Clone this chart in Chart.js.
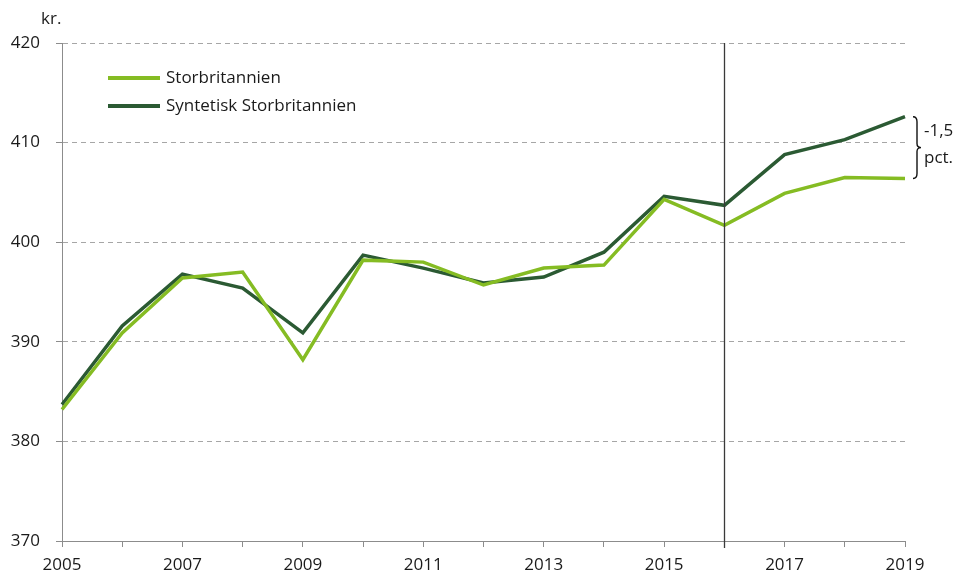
<!DOCTYPE html>
<html>
<head>
<meta charset="utf-8">
<script src="https://cdn.jsdelivr.net/npm/chart.js@4/dist/chart.umd.min.js"></script>
<style>
html,body{margin:0;padding:0;background:#fff;}
#wrap{width:955px;height:576px;position:relative;}
</style>
</head>
<body>
<div id="wrap"><canvas id="c" width="955" height="576"></canvas></div>
<script>
const years = ['2005','2006','2007','2008','2009','2010','2011','2012','2013','2014','2015','2016','2017','2018','2019'];
const storbritannien = [383.2,390.9,396.4,397.0,388.2,398.2,398.0,395.7,397.4,397.7,404.3,401.7,404.9,406.5,406.4];
const syntetisk = [383.7,391.6,396.8,395.4,390.9,398.7,397.4,395.9,396.5,399.0,404.6,403.7,408.8,410.3,412.6];
const seriesNames = ['Storbritannien','Syntetisk Storbritannien'];
const yTicks = [370,380,390,400,410,420];
const unitLabel = 'kr.';
const interventionYear = '2016';
const gapLabel = ['-1,5','pct.'];

const FONT = '"Open Sans", sans-serif';
const FS = 17;
const LIGHT = '#85BC23';
const DARK = '#2B5A33';
const TEXT = '#1a1a1a';

const extras = {
  id: 'extras',
  afterDatasetsDraw(chart) {
    const ctx = chart.ctx;
    const xs = chart.scales.x, ys = chart.scales.y;
    const ca = chart.chartArea;
    ctx.save();
    // vertical line
    const vx = Math.round(xs.getPixelForValue(years.indexOf(interventionYear))) + 0.5;
    ctx.strokeStyle = '#3a3a3a';
    ctx.lineWidth = 1.3;
    ctx.beginPath();
    ctx.moveTo(vx, ca.top);
    ctx.lineTo(vx, ca.bottom + 7);
    ctx.stroke();
    // legend
    const items = [[seriesNames[0], LIGHT, 78], [seriesNames[1], DARK, 106]];
    ctx.font = FS + 'px ' + FONT;
    ctx.textBaseline = 'middle';
    ctx.textAlign = 'left';
    items.forEach(([t, c, y]) => {
      ctx.strokeStyle = c;
      ctx.lineWidth = 4;
      ctx.beginPath();
      ctx.moveTo(108, y);
      ctx.lineTo(160, y);
      ctx.stroke();
      ctx.fillStyle = TEXT;
      ctx.fillText(t, 166, y);
    });
    // unit label
    ctx.fillText(unitLabel, 41, 19);
    // brace
    const last = years.length - 1;
    const bx = xs.getPixelForValue(last) + 8;
    const y1 = ys.getPixelForValue(syntetisk[last]);
    const y2 = ys.getPixelForValue(storbritannien[last]);
    const ym = (y1 + y2) / 2;
    ctx.strokeStyle = '#111';
    ctx.lineWidth = 1.4;
    ctx.beginPath();
    ctx.moveTo(bx, y1);
    ctx.quadraticCurveTo(bx + 4, y1, bx + 4, y1 + 5);
    ctx.lineTo(bx + 4, ym - 4);
    ctx.quadraticCurveTo(bx + 4, ym, bx + 8, ym);
    ctx.quadraticCurveTo(bx + 4, ym, bx + 4, ym + 4);
    ctx.lineTo(bx + 4, y2 - 5);
    ctx.quadraticCurveTo(bx + 4, y2, bx, y2);
    ctx.stroke();
    ctx.fillStyle = TEXT;
    ctx.fillText(gapLabel[0], bx + 11, ym - 16);
    ctx.fillText(gapLabel[1], bx + 11, ym + 11);
    ctx.restore();
  }
};

new Chart(document.getElementById('c'), {
  type: 'line',
  data: {
    labels: years,
    datasets: [
      { label: seriesNames[0], data: storbritannien, borderColor: LIGHT, borderWidth: 3.5, pointRadius: 0, tension: 0, fill: false },
      { label: seriesNames[1], data: syntetisk, borderColor: DARK, borderWidth: 3.5, pointRadius: 0, tension: 0, fill: false }
    ]
  },
  options: {
    responsive: false,
    animation: false,
    devicePixelRatio: 1,
    layout: { padding: { left: 0, right: 50, top: 43, bottom: 0 } },
    plugins: { legend: { display: false }, tooltip: { enabled: false } },
    scales: {
      x: {
        type: 'category',
        offset: false,
        afterFit: s => { s.height = 35; },
        grid: { display: true, drawOnChartArea: false, drawTicks: true, tickLength: 6, tickColor: '#8c8c8c', tickWidth: 1 },
        border: { display: true, color: '#8c8c8c', width: 1 },
        ticks: {
          autoSkip: false, maxRotation: 0, padding: 8, color: TEXT,
          font: { family: FONT, size: FS },
          callback: (v, i) => (i % 2 === 0 ? years[i] : '')
        }
      },
      y: {
        min: yTicks[0], max: yTicks[yTicks.length - 1],
        afterFit: s => { s.width = 62; },
        afterBuildTicks: s => { s.ticks = yTicks.map(v => ({ value: v })); },
        grid: {
          color: ctx => (ctx.tick && ctx.tick.value === yTicks[0]) ? 'rgba(0,0,0,0)' : '#a6a6a6',
          lineWidth: 1, drawTicks: true, tickLength: 6, tickColor: '#8c8c8c', tickBorderDash: []
        },
        border: { display: true, color: '#8c8c8c', width: 1, dash: [5, 4] },
        ticks: { padding: 16, color: TEXT, font: { family: FONT, size: FS } }
      }
    }
  },
  plugins: [extras]
});
</script>
</body>
</html>
